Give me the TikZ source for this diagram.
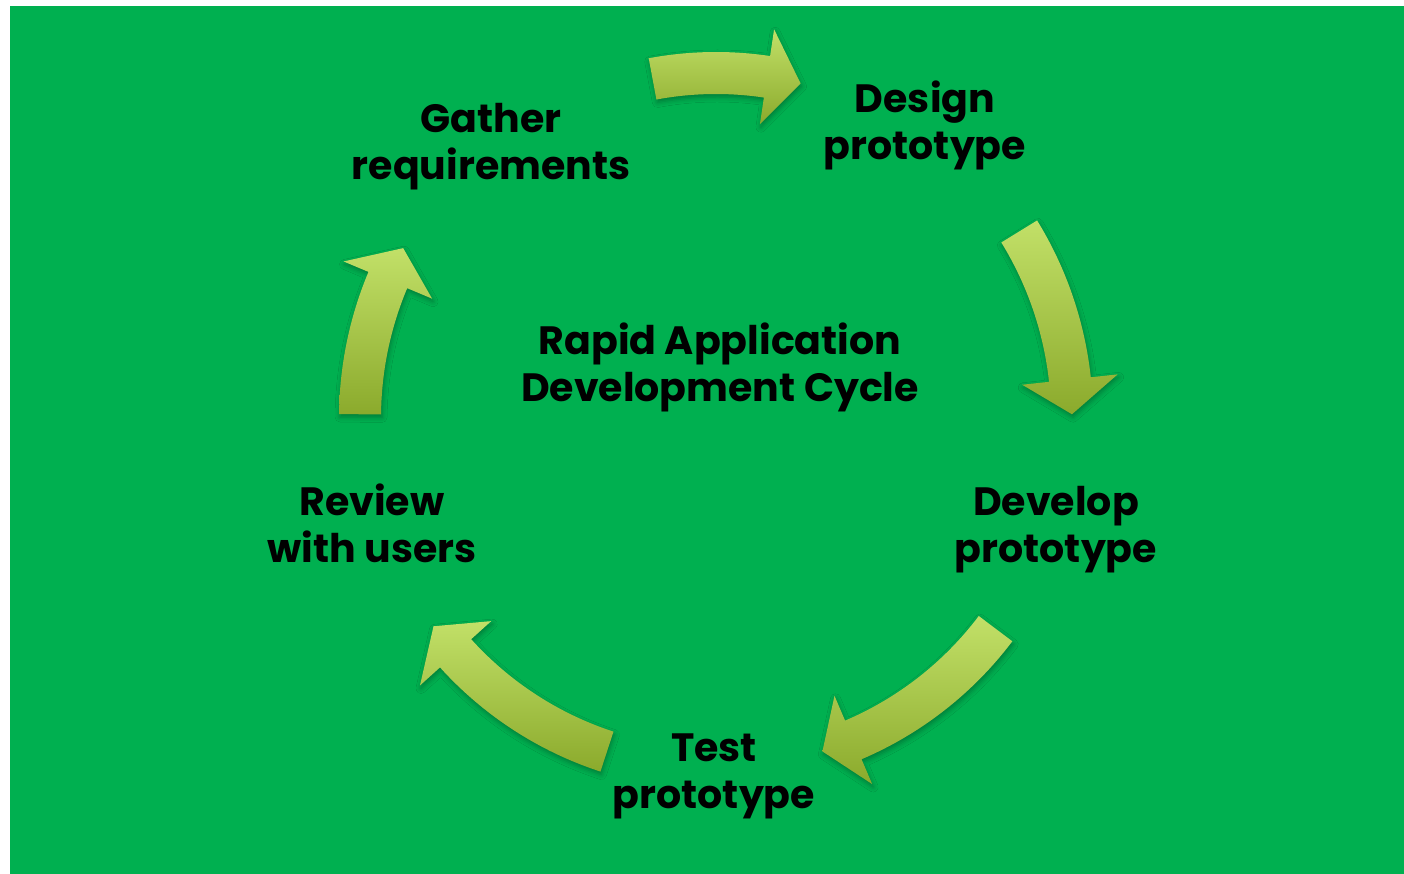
\documentclass[tikz,border=0pt]{standalone}
\usepackage{fontspec}
\setmainfont{Poppins}
\usetikzlibrary{shadows.blur}

\definecolor{slidegreen}{RGB}{0,176,80}
\definecolor{arrowlight}{RGB}{194,224,104}
\definecolor{arrowdark}{RGB}{139,170,44}

\tikzset{
  cyclearrow/.style={top color=arrowlight, bottom color=arrowdark,
    blur shadow={shadow xshift=1pt, shadow yshift=-3pt,
                 shadow blur radius=5pt, shadow opacity=30}},
  % base anchor sits on the baseline of the last line
  steptext/.style={anchor=base, align=center, inner sep=0pt,
    font=\fontsize{39.5}{47}\selectfont\bfseries, text=black}
}

% curved block arrow around the cycle centre
% #1 tail angle, #2 angle of the head base, #3 tip angle, #4 radius of the centre line
\newcommand\cycarrow[4]{%
  \path[cyclearrow] (#1:#4+21) arc[start angle=#1, end angle=#2, radius=#4+21]
    -- (#2:#4+48) -- (#3:#4) -- (#2:#4-48) -- (#2:#4-21)
    arc[start angle=#2, end angle=#1, radius=#4-21] -- cycle;
}

\begin{document}
\begin{tikzpicture}[x=1pt, y=1pt]
  \useasboundingbox (0,0) rectangle (1404,874);
  \fill[white] (0,0) rectangle (1404,874);
  \fill[slidegreen] (10,0) rectangle (1404,868);

  \begin{scope}[shift={(716,456)}]
    \cycarrow{100.6}{81.5}{75.8}{345}
    \cycarrow{31.6}{6.2}{0.6}{356}
    \cycarrow{-37.0}{-66.9}{-72.3}{350}
    \cycarrow{-108.1}{-137.9}{-143.6}{351}
    \cycarrow{179.4}{157.2}{151.5}{356}
  \end{scope}

  \node[steptext] (gather)  at (491,694) {Gather\\requirements};
  \node[steptext] (design)  at (925,714) {Design\\prototype};
  \node[steptext] (develop) at (1056,311) {Develop\\prototype};
  \node[steptext] (test)    at (714,65)  {Test\\prototype};
  \node[steptext] (review)  at (372,311) {Review\\with users};
  \node[steptext] (title)   at (720,472) {Rapid Application\\Development Cycle};
\end{tikzpicture}
\end{document}
